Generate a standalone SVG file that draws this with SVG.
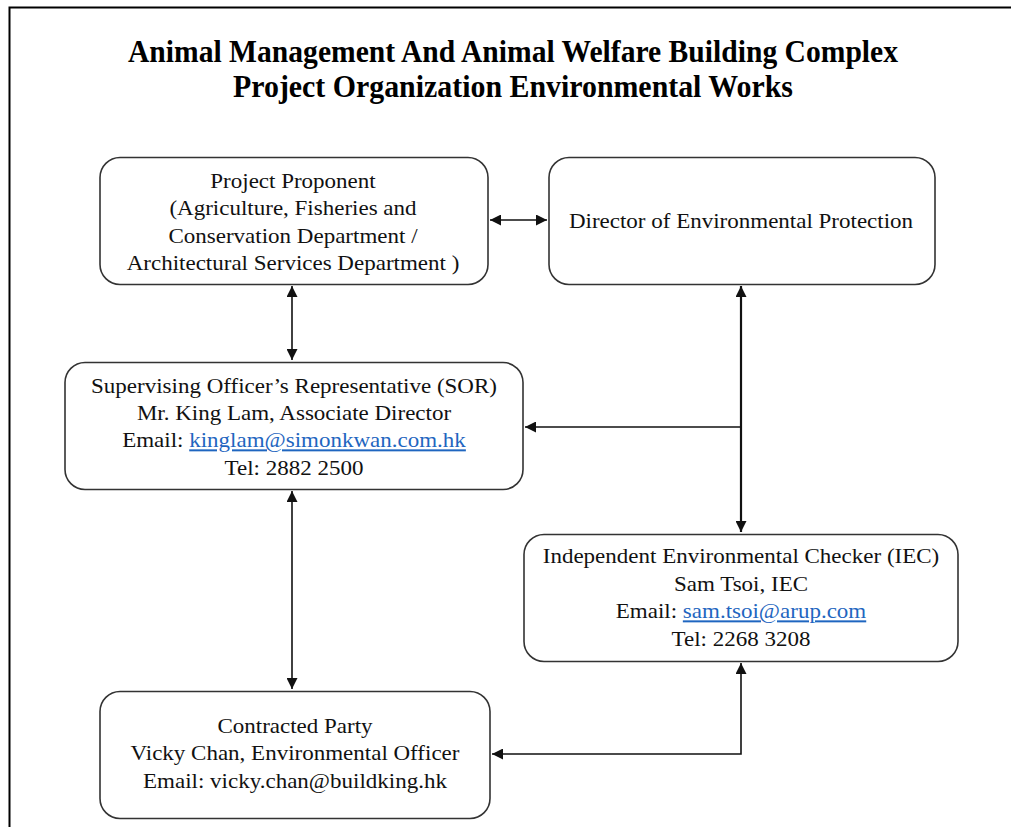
<svg xmlns="http://www.w3.org/2000/svg" width="1011" height="827" viewBox="0 0 1011 827">
<style>
.box{fill:#fff;stroke:#333;stroke-width:1.6}
.t{font-family:"Liberation Serif","Times New Roman",serif;font-size:20px;fill:#111;text-anchor:middle}
.ttl{font-family:"Liberation Serif","Times New Roman",serif;font-size:31px;font-weight:bold;fill:#000;text-anchor:middle}
.lnk{fill:#1F66C0;text-decoration:underline}
.c{fill:none;stroke:#111;stroke-width:1.6}
.ck{fill:none;stroke:#111;stroke-width:2.2}
</style>
<defs>
<marker id="ah2" viewBox="0 0 10 10" refX="10" refY="5" markerWidth="11" markerHeight="11" markerUnits="userSpaceOnUse" orient="auto-start-reverse">
<path d="M0,0 L10,5 L0,10 z" fill="#111"/>
</marker>
</defs>
<rect width="1011" height="827" fill="#fff"/>
<path d="M9.5,827 V7.5 H1011" fill="none" stroke="#000" stroke-width="2"/>
<g id="title">
<text class="ttl" x="513" y="62" textLength="770" lengthAdjust="spacingAndGlyphs">Animal Management And Animal Welfare Building Complex</text>
<text class="ttl" x="513" y="97" textLength="560" lengthAdjust="spacingAndGlyphs">Project Organization Environmental Works</text>
</g>
<g id="connectors">
<path class="c" d="M490,220 H547" marker-start="url(#ah2)" marker-end="url(#ah2)"/>
<path class="c" d="M292,286 V360" marker-start="url(#ah2)" marker-end="url(#ah2)"/>
<path class="ck" d="M741,286 V532" marker-start="url(#ah2)" marker-end="url(#ah2)"/>
<path class="c" d="M741,427 H525" marker-end="url(#ah2)"/>
<path class="c" d="M292,491 V689" marker-start="url(#ah2)" marker-end="url(#ah2)"/>
<path class="c" d="M741,663 V754 H492" marker-start="url(#ah2)" marker-end="url(#ah2)"/>
</g>
<g id="proponent">
<rect class="box" x="100" y="157.5" width="388" height="127" rx="20"/>
<g transform="translate(293,0) scale(1.15,1)">
<text class="t" x="0" y="188">Project Proponent</text>
<text class="t" x="0" y="215.5">(Agriculture, Fisheries and</text>
<text class="t" x="0" y="243">Conservation Department /</text>
<text class="t" x="0" y="270.5">Architectural Services Department )</text>
</g>
</g>
<g id="director">
<rect class="box" x="549" y="157.5" width="386" height="127" rx="20"/>
<g transform="translate(741,0) scale(1.15,1)">
<text class="t" x="0" y="228">Director of Environmental Protection</text>
</g>
</g>
<g id="sor">
<rect class="box" x="65" y="362.5" width="458" height="127" rx="20"/>
<g transform="translate(294,0) scale(1.15,1)">
<text class="t" x="0" y="393">Supervising Officer’s Representative (SOR)</text>
<text class="t" x="0" y="420">Mr. King Lam, Associate Director</text>
<text class="t" x="0" y="447.5">Email: <tspan class="lnk">kinglam@simonkwan.com.hk</tspan></text>
<text class="t" x="0" y="475">Tel: 2882 2500</text>
</g>
</g>
<g id="iec">
<rect class="box" x="524" y="534.5" width="434" height="127" rx="20"/>
<g transform="translate(741,0) scale(1.15,1)">
<text class="t" x="0" y="563.5">Independent Environmental Checker (IEC)</text>
<text class="t" x="0" y="591">Sam Tsoi, IEC</text>
<text class="t" x="0" y="618.5">Email: <tspan class="lnk">sam.tsoi@arup.com</tspan></text>
<text class="t" x="0" y="646">Tel: 2268 3208</text>
</g>
</g>
<g id="contracted">
<rect class="box" x="100" y="691.5" width="390" height="127" rx="20"/>
<g transform="translate(295,0) scale(1.15,1)">
<text class="t" x="0" y="733">Contracted Party</text>
<text class="t" x="0" y="760.5">Vicky Chan, Environmental Officer</text>
<text class="t" x="0" y="788">Email: vicky.chan@buildking.hk</text>
</g>
</g>
</svg>
